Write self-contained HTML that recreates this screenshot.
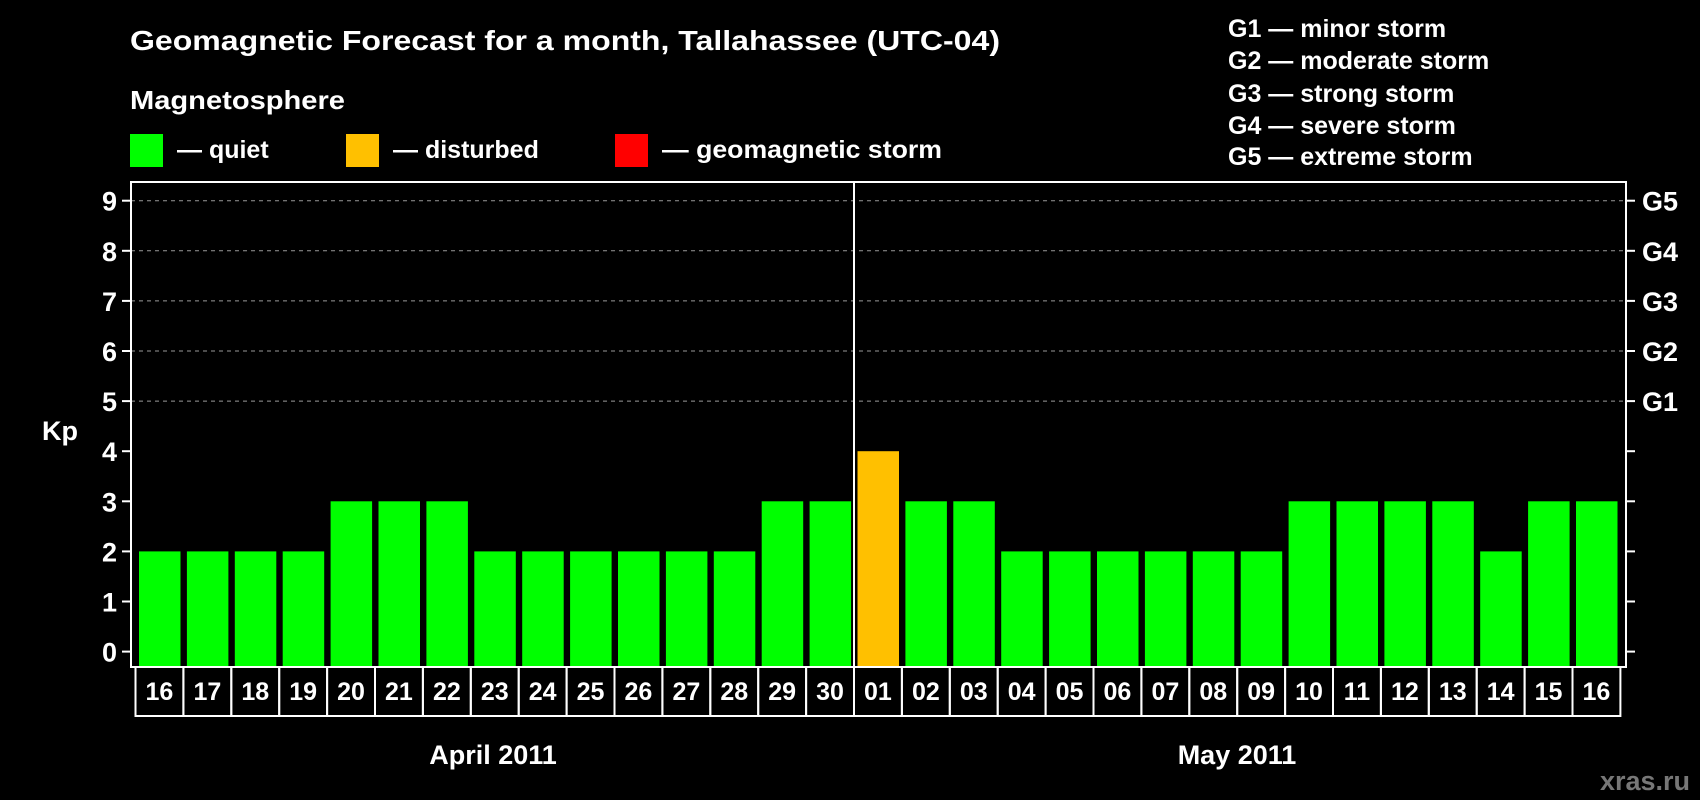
<!DOCTYPE html>
<html><head><meta charset="utf-8"><style>
html,body{margin:0;padding:0;background:#000;}
svg{display:block;font-family:"Liberation Sans",Arial,sans-serif;font-weight:bold;}
</style></head><body>
<svg id="c" width="1700" height="800" viewBox="0 0 1700 800">
<text x="130" y="50" fill="#fff" font-size="28" textLength="870" lengthAdjust="spacingAndGlyphs">Geomagnetic Forecast for a month, Tallahassee (UTC-04)</text>
<text x="130" y="109" fill="#fff" font-size="26" textLength="215" lengthAdjust="spacingAndGlyphs">Magnetosphere</text>
<g><rect x="130" y="134" width="33" height="33" fill="#00ff00"/><text x="177" y="158" fill="#fff" font-size="25">— quiet</text></g>
<g><rect x="346" y="134" width="33" height="33" fill="#ffc000"/><text x="393" y="158" fill="#fff" font-size="25">— disturbed</text></g>
<g><rect x="615" y="134" width="33" height="33" fill="#ff0000"/><text x="662" y="158" fill="#fff" font-size="25" textLength="280" lengthAdjust="spacingAndGlyphs">— geomagnetic storm</text></g>
<g fill="#fff" font-size="25">
<text x="1228" y="37">G1 — minor storm</text>
<text x="1228" y="69">G2 — moderate storm</text>
<text x="1228" y="102">G3 — strong storm</text>
<text x="1228" y="134">G4 — severe storm</text>
<text x="1228" y="165">G5 — extreme storm</text>
</g>
<text x="42" y="440" fill="#fff" font-size="27">Kp</text>
<g id="plot"></g>
<text x="493" y="764" fill="#fff" font-size="27" text-anchor="middle">April 2011</text>
<text x="1237" y="764" fill="#fff" font-size="27" text-anchor="middle">May 2011</text>
<text x="1690" y="790" fill="#777" font-size="27" text-anchor="end">xras.ru</text>
</svg>
<script>
const days=["16","17","18","19","20","21","22","23","24","25","26","27","28","29","30","01","02","03","04","05","06","07","08","09","10","11","12","13","14","15","16"];
const kp=[2,2,2,2,3,3,3,2,2,2,2,2,2,3,3,4,3,3,2,2,2,2,2,2,3,3,3,3,2,3,3];
const yTicks=[0,1,2,3,4,5,6,7,8,9];
const gLabels=["G1","G2","G3","G4","G5"];
const NS="http://www.w3.org/2000/svg";
const g=document.getElementById('plot');
const L=131,R=1626,T=182,B=667,cellL=135.5,pitch=47.9;
function y(v){return 651.6-v*50.1;}
function x(i){return cellL+i*pitch;}
function mk(t,a,p){const e=document.createElementNS(NS,t);for(const k in a)e.setAttribute(k,a[k]);(p||g).appendChild(e);return e;}
yTicks.forEach(v=>{
  if(v>=5){const l=mk('line',{x1:L,x2:R,y1:y(v),y2:y(v),stroke:'#999','stroke-dasharray':'4,4','stroke-width':1});
  
  }
  mk('line',{x1:122,x2:L,y1:y(v),y2:y(v),stroke:'#fff','stroke-width':2});
  mk('line',{x1:R,x2:R+9,y1:y(v),y2:y(v),stroke:'#fff','stroke-width':2});
  const t=mk('text',{x:117,y:y(v)+10,fill:'#fff','font-size':27,'text-anchor':'end'});t.textContent=v;
  
  
});
gLabels.forEach((s,i)=>{const t=mk('text',{x:1642,y:y(5+i)+10,fill:'#fff','font-size':27});t.textContent=s;
  
  });
kp.forEach((v,i)=>{
  const col=v>=5?'#ff0000':(v>=4?'#ffc000':'#00ff00');
  const r=mk('rect',{x:x(i)+3.5,y:y(v),width:41.5,height:B-1-y(v),fill:col});
  
  
  mk('rect',{x:x(i),y:B,width:pitch,height:49,fill:'none',stroke:'#fff','stroke-width':2});
  const t=mk('text',{x:x(i)+pitch/2,y:B+33,fill:'#fff','font-size':25,'text-anchor':'middle'});t.textContent=days[i];
  
  
});
mk('rect',{x:L,y:T,width:R-L,height:B-T,fill:'none',stroke:'#fff','stroke-width':2});
const di=days.indexOf("01");
const d=mk('line',{x1:x(di),x2:x(di),y1:T,y2:B,stroke:'#fff','stroke-width':2});


</script>
</body></html>
